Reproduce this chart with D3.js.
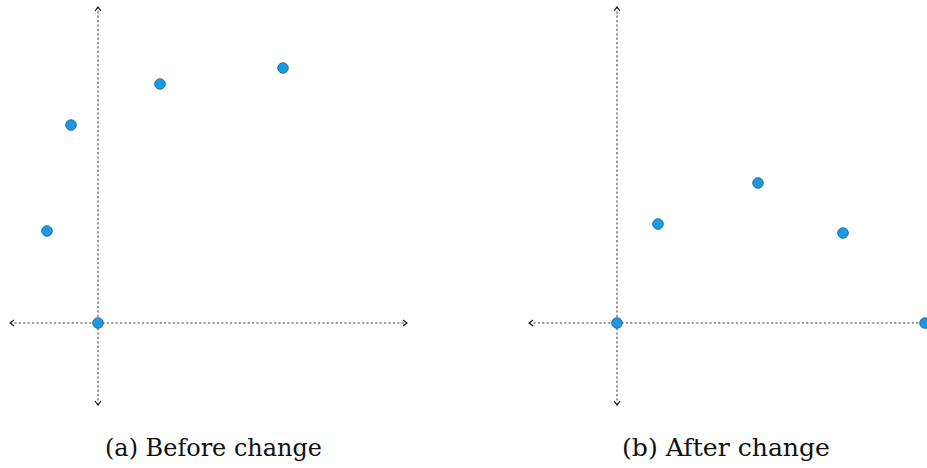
<!DOCTYPE html>
<html><head><meta charset="utf-8">
<script src="https://cdn.jsdelivr.net/npm/d3@7"></script>
<style>html,body{margin:0;padding:0;background:#fff;}svg{display:block;}</style>
</head><body>
<svg id="chart" width="927" height="468"></svg>
<script>
// Panel data (arbitrary units)
const panels = ["(a) Before change", "(b) After change"];
const beforeX = [-5.1, -2.7, 6.2, 18.5, 0];
const beforeY = [9.2, 19.8, 23.9, 25.5, 0];
const afterX = [0, 4.1, 14.1, 22.6, 30.8];
const afterY = [0, 9.9, 14.0, 9.0, 0];
const xDomain = [-8.8, 30.9];
const yDomain = [-8.2, 31.6];

const svg = d3.select("#chart");
const layout = [
  {title: panels[0], xs: beforeX, ys: beforeY, range: [10, 407], textX: 105, textW: 217},
  {title: panels[1], xs: afterX, ys: afterY, range: [529, 926], textX: 622, textW: 208}
];
const y = d3.scaleLinear().domain(yDomain).range([405, 7]);

layout.forEach(p => {
  const x = d3.scaleLinear().domain(xDomain).range(p.range);
  const g = svg.append("g");
  const ax = "#444";
  const dash = "2.2,2.2";
  g.append("line").attr("x1", x(xDomain[0])).attr("x2", x(xDomain[1]))
    .attr("y1", y(0)).attr("y2", y(0))
    .attr("stroke", ax).attr("stroke-width", 1.1).attr("stroke-dasharray", dash);
  g.append("line").attr("x1", x(0)).attr("x2", x(0))
    .attr("y1", y(yDomain[0])).attr("y2", y(yDomain[1]))
    .attr("stroke", ax).attr("stroke-width", 1.1).attr("stroke-dasharray", dash);
  const a = 4, b = 3;
  const heads = [
    `M${x(xDomain[0]) + a},${y(0) - b} L${x(xDomain[0])},${y(0)} L${x(xDomain[0]) + a},${y(0) + b}`,
    `M${x(xDomain[1]) - a},${y(0) - b} L${x(xDomain[1])},${y(0)} L${x(xDomain[1]) - a},${y(0) + b}`,
    `M${x(0) - b},${y(yDomain[1]) + a} L${x(0)},${y(yDomain[1])} L${x(0) + b},${y(yDomain[1]) + a}`,
    `M${x(0) - b},${y(yDomain[0]) - a} L${x(0)},${y(yDomain[0])} L${x(0) + b},${y(yDomain[0]) - a}`
  ];
  heads.forEach(d => g.append("path").attr("d", d).attr("fill", "none")
    .attr("stroke", "#111").attr("stroke-width", 1.1));
  g.selectAll("circle").data(p.xs.map((v, i) => [v, p.ys[i]])).enter().append("circle")
    .attr("cx", d => x(d[0])).attr("cy", d => y(d[1])).attr("r", 5.3)
    .attr("fill", "#1b9ae0").attr("stroke", "#16689f").attr("stroke-width", 0.9);
  g.append("text").attr("x", p.textX).attr("y", 456)
    .attr("font-family", "'DejaVu Serif', 'Liberation Serif', serif")
    .attr("font-size", 25).attr("fill", "#111")
    .attr("textLength", p.textW).attr("lengthAdjust", "spacingAndGlyphs")
    .text(p.title);
});
</script>
</body></html>
